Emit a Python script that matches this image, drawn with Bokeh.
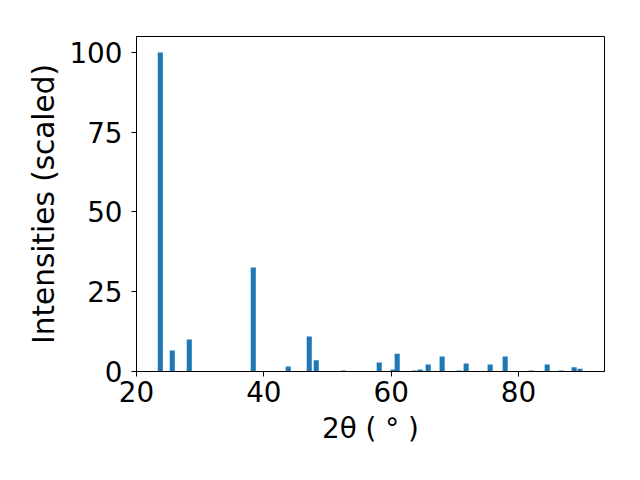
from bokeh.plotting import figure
from bokeh.models import Range1d, FixedTicker, ColumnDataSource
from bokeh.embed import file_html
from bokeh.resources import INLINE

two_theta = [23.74, 25.62, 28.29, 38.34, 43.83, 47.13, 48.23, 52.47,
             58.12, 60.30, 60.94, 63.61, 64.55, 65.81, 68.00, 70.68,
             71.77, 75.54, 77.90, 81.98, 84.50, 86.69, 88.73, 89.65]
intensity = [100.0, 6.6, 10.0, 32.6, 1.6, 11.0, 3.5, 0.3,
             2.8, 0.6, 5.6, 0.3, 0.6, 2.2, 4.7, 0.3,
             2.5, 2.2, 4.7, 0.3, 2.2, 0.3, 1.3, 0.9]
x_ticks = [20, 40, 60, 80]
y_ticks = [0, 25, 50, 75, 100]

src = ColumnDataSource(dict(x=two_theta, top=intensity))

p = figure(width=640, height=480, output_backend="svg", toolbar_location=None,
           x_range=Range1d(20, 93.5), y_range=Range1d(0, 105),
           min_border_left=136, min_border_right=36, min_border_top=36, min_border_bottom=109)
p.vbar(x="x", top="top", width=0.8, source=src, color="#1f77b4", line_color=None)

p.grid.visible = False
p.outline_line_color = "black"
p.outline_line_width = 1
p.background_fill_color = "white"
p.border_fill_color = "white"

for ax, ticks in ((p.xaxis[0], x_ticks), (p.yaxis[0], y_ticks)):
    ax.ticker = FixedTicker(ticks=ticks)
    ax.minor_tick_line_color = None
    ax.major_tick_out = 5
    ax.major_tick_in = 0
    ax.major_label_text_font = "DejaVu Sans"
    ax.major_label_text_font_size = "27.8px"
    ax.major_label_text_color = "black"
    ax.axis_label_text_font = "DejaVu Sans"
    ax.axis_label_text_font_size = "27.8px"
    ax.axis_label_text_font_style = "normal"
    ax.axis_label_text_color = "black"
    ax.axis_line_color = "black"
    ax.major_tick_line_color = "black"

p.yaxis.axis_label_text_font_size = "29.5px"
p.xaxis.major_label_standoff = 4
p.yaxis.major_label_standoff = 9
p.xaxis.axis_label = "2θ ( ° )"
p.yaxis.axis_label = "Intensities (scaled)"
p.xaxis.axis_label_standoff = 7
p.yaxis.axis_label_standoff = 5

open("out.html", "w").write(file_html(p, INLINE))
